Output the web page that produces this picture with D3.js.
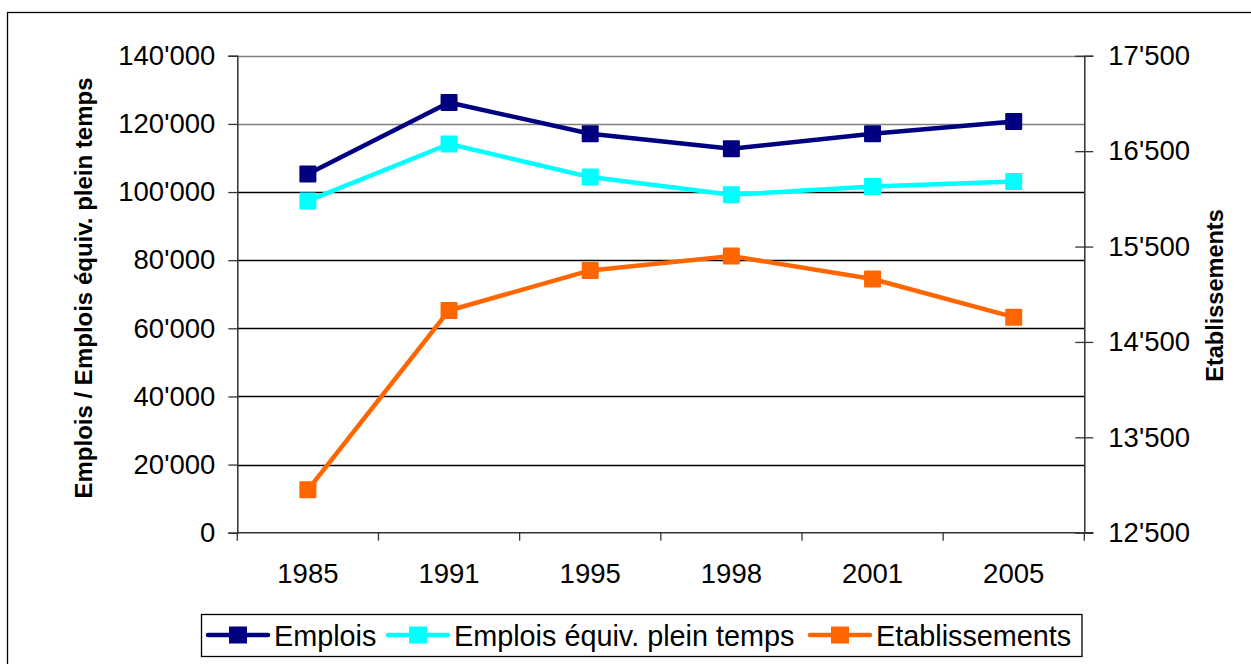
<!DOCTYPE html>
<html>
<head>
<meta charset="utf-8">
<script src="https://cdn.jsdelivr.net/npm/d3@7"></script>
<style>
  body { margin: 0; background: #fff; }
  text { font-family: "Liberation Sans", Arial, sans-serif; fill: #000; }
</style>
</head>
<body>
<div id="chart"></div>
<script>
// data
var years = ["1985", "1991", "1995", "1998", "2001", "2005"];
var emplois = [105300, 126300, 117100, 112700, 117100, 120700];
var emploisEPT = [97400, 114100, 104400, 99200, 101600, 103100];
var etablissements = [12950, 14830, 15250, 15400, 15160, 14760];

var leftTicks = [0, 20000, 40000, 60000, 80000, 100000, 120000, 140000];
var rightTicks = [12500, 13500, 14500, 15500, 16500, 17500];

var seriesNames = ["Emplois", "Emplois équiv. plein temps", "Etablissements"];
var seriesColors = ["#000080", "#00ffff", "#ff6600"];

var svgWidth = 1251;
var svgHeight = 664;

var plot = { left: 237.3, right: 1084.3, top: 55.8, bottom: 532.7 };

var svg = d3.select("#chart")
    .append("svg")
    .attr("width", svgWidth)
    .attr("height", svgHeight);

// outer frame (runs off the right and bottom edges)
svg.append("rect")
    .attr("x", 7.5)
    .attr("y", 12.5)
    .attr("width", 1260)
    .attr("height", 700)
    .attr("fill", "none")
    .attr("stroke", "#000")
    .attr("stroke-width", 1.3);

// number format with apostrophe as thousands separator
var fmt = d3.formatLocale({ decimal: ".", thousands: "'", grouping: [3], currency: ["", ""] }).format(",");

// scales
var xScale = d3.scaleBand()
    .domain(years)
    .range([plot.left, plot.right])
    .padding(0);

var yLeft = d3.scaleLinear()
    .domain([0, 140000])
    .range([plot.bottom, plot.top]);

var yRight = d3.scaleLinear()
    .domain([12500, 17500])
    .range([plot.bottom, plot.top]);

// gridlines
svg.append("g")
    .selectAll("line")
    .data(leftTicks.filter(d => d > 0))
    .enter()
    .append("line")
    .attr("x1", plot.left)
    .attr("x2", plot.right)
    .attr("y1", d => Math.round(yLeft(d)) + 0.5)
    .attr("y2", d => Math.round(yLeft(d)) + 0.5)
    .attr("stroke", d => d >= 120000 ? "#808080" : "#000")
    .attr("stroke-width", 1.3);

// left axis
var leftAxis = d3.axisLeft(yLeft)
    .tickValues(leftTicks)
    .tickFormat(fmt)
    .tickSize(9)
    .tickPadding(13);

var gLeft = svg.append("g")
    .attr("transform", `translate(${plot.left}, 0)`)
    .call(leftAxis);

// right axis, ticks cross the line
var rightAxis = d3.axisRight(yRight)
    .tickValues(rightTicks)
    .tickFormat(fmt)
    .tickSize(9)
    .tickPadding(15);

var gRight = svg.append("g")
    .attr("transform", `translate(${plot.right}, 0)`)
    .call(rightAxis);
gRight.selectAll(".tick line").attr("x1", -9);

// bottom axis, ticks between categories
var bottomAxis = d3.axisBottom(xScale)
    .tickSize(0)
    .tickPadding(31);

var gBottom = svg.append("g")
    .attr("transform", `translate(0, ${plot.bottom})`)
    .call(bottomAxis);
gBottom.select(".domain").attr("d", `M${plot.left},0H${plot.right + 9}`);

gBottom.selectAll(".sep")
    .data(years.concat(["end"]))
    .enter()
    .append("line")
    .attr("class", "sep")
    .attr("x1", (d, i) => i < years.length ? xScale(d) : plot.right)
    .attr("x2", (d, i) => i < years.length ? xScale(d) : plot.right)
    .attr("y1", 0)
    .attr("y2", 8)
    .attr("stroke", "#333")
    .attr("stroke-width", 1.3);

[gLeft, gRight, gBottom].forEach(function(g) {
    g.select(".domain").attr("stroke", "#333").attr("stroke-width", 1.5);
    g.selectAll(".tick line").attr("stroke", "#333").attr("stroke-width", 1.3);
    g.selectAll("text")
        .attr("font-family", "Liberation Sans, Arial, sans-serif")
        .attr("font-size", "27.5px")
        .attr("fill", "#000");
});

// the lines
var allSeries = [
    { values: emplois, scale: yLeft },
    { values: emploisEPT, scale: yLeft },
    { values: etablissements, scale: yRight }
];

allSeries.forEach(function(s, k) {
    var line = d3.line()
        .x((d, i) => xScale(years[i]) + xScale.bandwidth() / 2)
        .y(d => s.scale(d));

    svg.append("path")
        .datum(s.values)
        .attr("d", line)
        .attr("fill", "none")
        .attr("stroke", seriesColors[k])
        .attr("stroke-width", 4.5)
        .attr("stroke-linejoin", "round");

    svg.append("g")
        .selectAll("rect")
        .data(s.values)
        .enter()
        .append("rect")
        .attr("x", (d, i) => xScale(years[i]) + xScale.bandwidth() / 2 - 8.5)
        .attr("y", d => s.scale(d) - 8.5)
        .attr("width", 17)
        .attr("height", 17)
        .attr("rx", 1)
        .attr("fill", seriesColors[k]);
});

// axis titles
svg.append("text")
    .attr("transform", "translate(92, 288) rotate(-90)")
    .attr("text-anchor", "middle")
    .attr("font-size", "24px")
    .attr("font-weight", "bold")
    .text("Emplois / Emplois équiv. plein temps");

svg.append("text")
    .attr("transform", "translate(1223, 295.5) rotate(-90)")
    .attr("text-anchor", "middle")
    .attr("font-size", "23.5px")
    .attr("font-weight", "bold")
    .text("Etablissements");

// legend
var legend = svg.append("g");
legend.append("rect")
    .attr("x", 201.5)
    .attr("y", 614.5)
    .attr("width", 880.5)
    .attr("height", 42)
    .attr("fill", "#fff")
    .attr("stroke", "#000")
    .attr("stroke-width", 1.3);

var legendX = [208, 388, 810];
var legendItems = legend.selectAll(".item")
    .data(seriesNames)
    .enter()
    .append("g")
    .attr("class", "item")
    .attr("transform", (d, i) => `translate(${legendX[i]}, 635)`);

legendItems.append("line")
    .attr("x1", 0)
    .attr("x2", 60)
    .attr("stroke", (d, i) => seriesColors[i])
    .attr("stroke-width", 4.5)
    .attr("stroke-linecap", "round");

legendItems.append("rect")
    .attr("x", 21)
    .attr("y", -8.5)
    .attr("width", 18)
    .attr("height", 17)
    .attr("fill", (d, i) => seriesColors[i]);

legendItems.append("text")
    .attr("x", 66)
    .attr("y", 10.5)
    .attr("font-size", "28.8px")
    .text(d => d);
</script>
</body>
</html>
